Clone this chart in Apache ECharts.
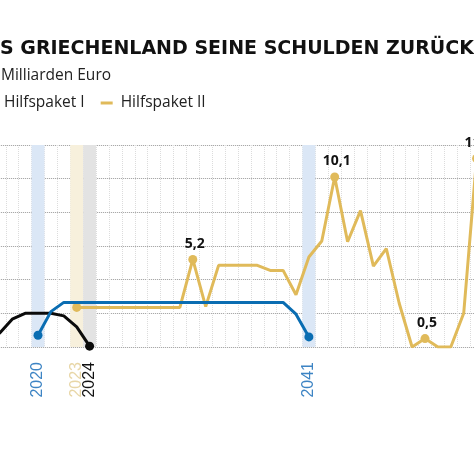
<!DOCTYPE html>
<html>
<head>
<meta charset="utf-8">
<script src="https://cdn.jsdelivr.net/npm/echarts@6/dist/echarts.min.js"></script>
<style>
html,body{margin:0;padding:0;background:#fff;}
#chart{width:474px;height:463px;}
</style>
</head>
<body>
<div id="chart"></div>
<script>
// ---- data ----
const years = ['2017','2018','2019','2020','2021','2022','2023','2024','2025','2026','2027','2028','2029','2030','2031','2032','2033','2034','2035','2036','2037','2038','2039','2040','2041','2042','2043','2044','2045','2046','2047','2048','2049','2050','2051','2052','2053','2054'];
const seriesBlack = [0.8,1.65,2.0,2.0,2.0,1.85,1.2,0.05,null,null,null,null,null,null,null,null,null,null,null,null,null,null,null,null,null,null,null,null,null,null,null,null,null,null,null,null,null,null];
const hilfspaket1 = [null,null,null,0.7,2.1,2.65,2.65,2.65,2.65,2.65,2.65,2.65,2.65,2.65,2.65,2.65,2.65,2.65,2.65,2.65,2.65,2.65,2.65,1.95,0.6,null,null,null,null,null,null,null,null,null,null,null,null,null];
const hilfspaket2 = [null,null,null,null,null,null,2.35,2.35,2.35,2.35,2.35,2.35,2.35,2.35,2.35,5.2,2.4,4.85,4.85,4.85,4.85,4.55,4.55,3.1,5.35,6.3,10.1,6.25,8.1,4.8,5.85,2.6,0,0.5,0,0,2.0,11.2];
const yTicks = [0,2,4,6,8,10,12];
const highlightYears = ['2020','2023','2024','2041'];
const goldDotYears = ['2023','2032','2043','2050','2054'];
const goldLabelYears = ['2032','2043','2050','2054'];
const blueDotYears = ['2020','2041'];
const blackDotYears = ['2024'];

// ---- styles ----
const BLUE = '#0a6db2', GOLD = '#e0ba5a', BLACK = '#0b0b0b';
const bandColors = {'2020':'#dbe7f6','2023':'#f7f0dc','2024':'#e3e3e3','2041':'#dbe7f6'};
const labelColors = {'2020':'#3d84c4','2023':'#e8d6a6','2024':'#111111','2041':'#3d84c4'};

function fmt(v){ return String(v).replace('.', ','); }

function buildLine(values, dotYears, labelYears){
  return values.map((v,i) => {
    const y = years[i];
    if (v === null) return '-';
    const item = {value: v};
    if (dotYears.indexOf(y) >= 0) {
      item.symbol = 'circle';
      item.symbolSize = 9;
      if (labelYears && labelYears.indexOf(y) >= 0) {
        item.label = {show: true};
      }
    } else {
      item.symbol = 'none';
    }
    return item;
  });
}

const bandData = years.map(y => highlightYears.indexOf(y) >= 0
  ? {value: yTicks[yTicks.length-1], itemStyle: {color: bandColors[y]}}
  : '-');

const rich = {};
Object.keys(labelColors).forEach(y => {
  rich['y' + y] = {color: labelColors[y], fontFamily: 'Liberation Sans', fontSize: 16};
});

const labelStyle = {
  position: 'top',
  distance: 4,
  offset: [2, 0],
  color: '#111',
  fontFamily: 'Open Sans',
  fontWeight: 'bold',
  fontSize: 14,
  formatter: p => fmt(p.value)
};

const chart = echarts.init(document.getElementById('chart'), null, {renderer: 'canvas'});
chart.setOption({
  animation: false,
  backgroundColor: '#fff',
  title: [
    {text: 'S GRIECHENLAND SEINE SCHULDEN ZURÜCK', left: 0, top: 40, padding: 0,
     textStyle: {fontFamily: 'DejaVu Sans', fontWeight: 'bold', fontSize: 19, color: '#111'}},
    {text: 'Milliarden Euro', left: 1, top: 68, padding: 0,
     textStyle: {fontFamily: 'Open Sans', fontWeight: 'normal', fontSize: 15.5, color: '#222'}}
  ],
  legend: {
    data: ['Hilfspaket I', 'Hilfspaket II'],
    left: -16, top: 95, padding: 0,
    icon: 'rect', itemWidth: 12, itemHeight: 3, itemGap: 16,
    textStyle: {fontFamily: 'Open Sans', fontSize: 15.5, color: '#222', padding: [0,0,0,3]}
  },
  grid: {left: -7.15, width: 490.2, top: 145, bottom: 116, containLabel: false, outerBoundsMode: 'none'},
  xAxis: {
    type: 'category',
    data: years,
    boundaryGap: true,
    axisLine: {show: false},
    axisTick: {show: false},
    splitLine: {show: true, interval: 0, lineStyle: {color: '#dcdcdc', type: 'dotted', width: 1}},
    axisLabel: {
      interval: 0, rotate: 90, margin: 15,
      formatter: v => labelColors[v] ? '{y' + v + '|' + v + '}' : '',
      rich: rich
    }
  },
  yAxis: {
    type: 'value',
    min: yTicks[0], max: yTicks[yTicks.length-1], interval: 2,
    axisLine: {show: false}, axisTick: {show: false}, axisLabel: {show: false},
    splitLine: {show: true, lineStyle: {color: '#9a9a9a', type: 'dotted', width: 1}}
  },
  series: [
    {type: 'bar', name: 'band', data: bandData, barWidth: '100%', barGap: '0%', silent: true, z: 1},
    {type: 'line', name: 'IWF', data: buildLine(seriesBlack, blackDotYears, []), color: BLACK,
     lineStyle: {width: 3, color: BLACK}, itemStyle: {color: BLACK}, z: 3, connectNulls: false},
    {type: 'line', name: 'Hilfspaket II', data: buildLine(hilfspaket2, goldDotYears, goldLabelYears), color: GOLD,
     lineStyle: {width: 3, color: GOLD}, itemStyle: {color: GOLD}, label: labelStyle, z: 4},
    {type: 'line', name: 'Hilfspaket I', data: buildLine(hilfspaket1, blueDotYears, []), color: BLUE,
     lineStyle: {width: 3, color: BLUE}, itemStyle: {color: BLUE}, z: 5}
  ]
});
</script>
</body>
</html>
